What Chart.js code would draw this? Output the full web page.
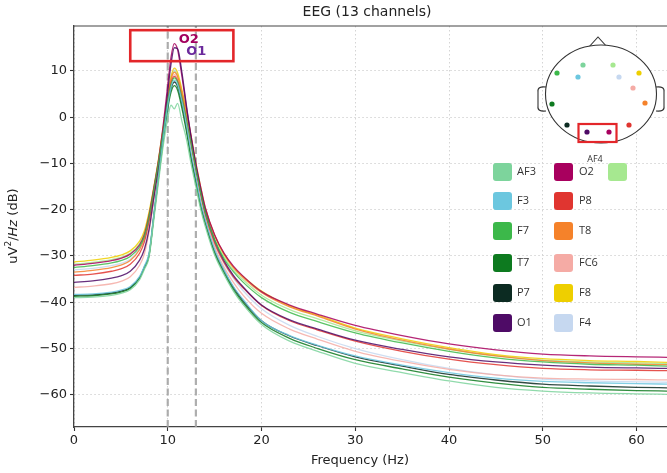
<!DOCTYPE html>
<html>
<head>
<meta charset="utf-8">
<title>EEG (13 channels)</title>
<script src="https://cdn.jsdelivr.net/npm/chart.js@4"></script>
<style>
    html, body { margin: 0; padding: 0; background: #fff; overflow: hidden; }
    #wrap { width: 667px; height: 473px; position: relative; }
</style>
</head>
<body>
<div id="wrap"><canvas id="psdChart" width="667" height="473"></canvas></div>
<script>
// Frequency grid (Hz) shared by every channel
const freqs = [0, 2, 4, 5, 6, 7, 7.5, 8, 8.5, 9, 9.5, 10, 10.35, 10.7, 11.05, 11.5, 12, 12.5, 13, 13.5,
               14, 15, 16, 17, 18, 20, 23, 26, 30, 35, 40, 45, 50, 55, 60, 63.5];

// PSD per channel, uV^2/Hz in dB
const psdAF3 = [-39.0, -38.9, -38.5, -38.1, -37.3, -35.1, -32.9, -30.3, -22.4, -14.2, -6.4, -0.2, 2.6, 1.8, 3.0, -0.8, -4.8, -10.2, -15.0, -19.8,
                -23.6, -29.8, -34.0, -37.6, -40.4, -44.8, -48.4, -50.6, -53.2, -55.2, -57.0, -58.4, -59.2, -59.6, -59.8, -59.9];
const psdF3  = [-38.3, -38.2, -37.8, -37.4, -36.6, -34.4, -32.2, -29.4, -21.2, -12.8, -4.8, 2.6, 6.4, 8.0, 7.0, 3.4, -1.8, -7.8, -13.0, -18.2,
                -22.2, -28.6, -33.0, -36.6, -39.3, -44.0, -47.2, -49.3, -51.6, -53.6, -55.2, -56.4, -57.1, -57.4, -57.6, -57.7];
const psdF7  = [-32.5, -32.1, -31.5, -31.0, -30.1, -28.0, -25.8, -21.6, -16.0, -10.0, -3.4, 3.4, 7.0, 8.5, 7.6, 4.2, -0.6, -5.8, -11.2, -16.2,
                -20.6, -26.6, -30.6, -33.4, -35.6, -39.0, -42.2, -44.2, -46.6, -48.8, -50.6, -52.0, -52.9, -53.4, -53.6, -53.8];
const psdT7  = [-38.7, -38.6, -38.2, -37.8, -37.0, -34.8, -32.6, -30.0, -21.8, -13.4, -5.4, 1.8, 5.4, 6.8, 5.8, 2.0, -3.2, -9.2, -14.2, -19.2,
                -23.0, -29.4, -33.6, -37.2, -40.0, -44.4, -47.8, -50.0, -52.4, -54.4, -56.2, -57.5, -58.4, -58.8, -59.1, -59.2];
const psdP7  = [-38.5, -38.4, -38.0, -37.6, -36.8, -34.6, -32.4, -29.8, -21.5, -13.0, -4.8, 2.6, 6.2, 7.6, 6.6, 2.8, -2.5, -8.6, -13.6, -18.8,
                -22.6, -29.0, -33.2, -36.8, -39.6, -44.0, -47.3, -49.4, -51.8, -53.8, -55.6, -56.8, -57.7, -58.1, -58.4, -58.5];
const psdO1  = [-35.7, -35.4, -34.8, -34.3, -33.3, -30.9, -28.6, -24.3, -17.6, -11.0, -3.6, 5.5, 11.5, 15.0, 14.8, 9.8, 2.4, -4.6, -10.6, -15.8,
                -20.3, -26.6, -31.0, -34.2, -36.6, -40.6, -43.8, -45.8, -48.2, -50.2, -51.8, -52.9, -53.6, -54.0, -54.2, -54.3];
const psdO2  = [-32.0, -31.6, -31.0, -30.5, -29.6, -27.6, -25.4, -21.2, -15.5, -9.5, -2.0, 7.0, 13.0, 15.9, 14.6, 9.0, 2.0, -4.2, -10.0, -15.0,
                -19.5, -25.4, -29.4, -32.2, -34.3, -37.7, -40.6, -42.6, -45.0, -47.2, -49.0, -50.3, -51.2, -51.6, -51.8, -51.9];
const psdP8  = [-34.2, -33.9, -33.3, -32.8, -31.8, -29.4, -27.0, -22.6, -16.8, -10.6, -3.6, 3.6, 7.4, 8.8, 7.8, 4.4, -0.6, -6.0, -11.4, -16.6,
                -21.0, -27.2, -31.4, -34.5, -36.8, -40.7, -44.0, -46.0, -48.4, -50.6, -52.3, -53.5, -54.3, -54.6, -54.7, -54.8];
const psdT8  = [-33.5, -33.1, -32.5, -32.0, -31.0, -28.6, -26.2, -21.8, -16.0, -9.8, -2.8, 4.2, 8.2, 9.7, 8.8, 5.4, 0.6, -4.8, -10.4, -15.4,
                -19.8, -25.6, -29.6, -32.5, -34.6, -37.9, -41.0, -43.0, -45.8, -48.2, -50.1, -51.6, -52.6, -53.1, -53.4, -53.5];
const psdFC6 = [-36.8, -36.5, -36.0, -35.5, -34.5, -32.0, -29.6, -24.8, -18.2, -11.6, -4.0, 3.6, 7.8, 9.2, 8.2, 4.6, -0.6, -6.2, -11.8, -17.0,
                -21.6, -28.0, -32.4, -35.7, -38.4, -42.4, -45.8, -48.0, -50.6, -52.8, -54.5, -55.7, -56.4, -56.6, -56.7, -56.8];
const psdF8  = [-31.3, -30.9, -30.3, -29.8, -28.9, -26.8, -24.6, -20.5, -15.2, -9.2, -2.4, 4.8, 8.8, 10.6, 9.6, 6.0, 1.2, -4.2, -10.0, -15.0,
                -19.6, -25.6, -29.6, -32.4, -34.4, -37.6, -40.8, -42.8, -45.6, -47.9, -49.8, -51.3, -52.2, -52.6, -52.8, -53.0];
const psdF4  = [-33.0, -32.7, -32.1, -31.6, -30.7, -28.4, -26.1, -21.8, -16.1, -10.0, -3.0, 4.6, 8.6, 10.2, 9.2, 5.6, 0.4, -5.4, -11.0, -16.2,
                -20.8, -27.2, -31.6, -34.8, -37.4, -41.4, -45.0, -47.4, -50.0, -52.4, -54.3, -55.7, -56.6, -57.0, -57.2, -57.3];
const psdAF4 = [-31.8, -31.4, -30.8, -30.3, -29.4, -27.3, -25.1, -21.0, -15.6, -9.6, -2.8, 4.4, 8.4, 10.0, 9.0, 5.4, 0.6, -4.8, -10.6, -15.6,
                -20.2, -26.2, -30.2, -33.0, -35.1, -38.5, -41.6, -43.6, -46.2, -48.4, -50.2, -51.6, -52.5, -52.9, -53.1, -53.3];

const channels = ['AF3', 'F3', 'F7', 'T7', 'P7', 'O1', 'O2', 'P8', 'T8', 'FC6', 'F8', 'F4', 'AF4'];
const series   = [psdAF3, psdF3, psdF7, psdT7, psdP7, psdO1, psdO2, psdP8, psdT8, psdFC6, psdF8, psdF4, psdAF4];
const colors   = ['#7dd49c', '#6cc7df', '#3cb84a', '#0d7a1f', '#0c2b22', '#4e0b66',
                  '#a8005e', '#e03530', '#f5822a', '#f5aba5', '#eecf00', '#c6d8f0', '#a6e890'];

const xTicks = [0, 10, 20, 30, 40, 50, 60];
const yTicks = [10, 0, -10, -20, -30, -40, -50, -60];
const xRange = [0, 63.25];
const yRange = [-66.96, 19.7];
const alphaBand = [10, 13];          // dashed band edges (Hz)
const highlightBox = [6, 17, 12.1, 18.8];   // x0, x1, y0, y1 in data units
const peakLabels = [['O2', 12.25, 16.8, '#a3005e'], ['O1', 13.05, 14.2, '#6b2a9c']];

const FONT = "'DejaVu Sans', sans-serif";

function alpha(hex, a) {
    const n = parseInt(hex.slice(1), 16);
    return `rgba(${n >> 16}, ${(n >> 8) & 255}, ${n & 255}, ${a})`;
}

const datasets = series.map((vals, i) => ({
    label: channels[i],
    data: vals.map((v, k) => ({ x: freqs[k], y: v })),
    borderColor: alpha(colors[i], 0.85),
    borderWidth: 1.3,
    pointRadius: 0,
    cubicInterpolationMode: 'monotone',
    fill: false
}));

alphaBand.forEach(f => {
    datasets.push({
        label: '',
        data: [{ x: f, y: yRange[0] }, { x: f, y: yRange[1] }],
        borderColor: 'rgba(160,160,160,0.85)',
        borderWidth: 2.2,
        borderDash: [7, 3.5],
        pointRadius: 0,
        fill: false
    });
});

// Positions for the inset montage (pixels, layout only)
const headDots = {
    AF3: [583, 65], AF4: [613, 65], F7: [557, 73], F3: [578, 77], F4: [619, 77], F8: [639, 73],
    FC6: [633, 88], T7: [552, 104], T8: [645, 103], P7: [567, 125], P8: [629, 125], O1: [587, 132], O2: [609, 132]
};
const legendCol1 = ['AF3', 'F3', 'F7', 'T7', 'P7', 'O1'];
const legendCol2 = ['O2', 'P8', 'T8', 'FC6', 'F8', 'F4'];
const legendRows = [172, 201, 231, 263, 293, 323];

const decor = {
    id: 'decor',
    afterDatasetsDraw(chart) {
        const { ctx, scales: { x, y } } = chart;
        ctx.save();
        // red highlight box around the peak labels
        const [bx0, bx1, by0, by1] = highlightBox;
        ctx.strokeStyle = '#e3262a';
        ctx.lineWidth = 2.6;
        ctx.strokeRect(x.getPixelForValue(bx0), y.getPixelForValue(by1),
            x.getPixelForValue(bx1) - x.getPixelForValue(bx0), y.getPixelForValue(by0) - y.getPixelForValue(by1));
        ctx.font = `bold 13px ${FONT}`;
        ctx.textAlign = 'center';
        ctx.textBaseline = 'middle';
        peakLabels.forEach(([t, fx, fy, c]) => {
            ctx.fillStyle = c;
            ctx.fillText(t, x.getPixelForValue(fx), y.getPixelForValue(fy));
        });
        ctx.restore();
    },
    afterDraw(chart) {
        const { ctx, chartArea } = chart;
        ctx.save();
        // top spine
        ctx.strokeStyle = '#444';
        ctx.lineWidth = 1.2;
        ctx.beginPath();
        ctx.moveTo(chartArea.left, chartArea.top);
        ctx.lineTo(chartArea.right, chartArea.top);
        ctx.stroke();

        // title + axis labels
        ctx.fillStyle = '#222';
        ctx.textAlign = 'center';
        ctx.textBaseline = 'middle';
        ctx.font = `14px ${FONT}`;
        ctx.fillText('EEG (13 channels)', 367, 12);
        ctx.font = `13px ${FONT}`;
        ctx.fillText('Frequency (Hz)', 360, 461);

        // y label with superscript and italic part
        ctx.translate(14, 226);
        ctx.rotate(-Math.PI / 2);
        const parts = [['uV', `13px ${FONT}`, 0], ['2', `9px ${FONT}`, -5], ['/', `13px ${FONT}`, 0],
                       ['Hz', `italic 13px ${FONT}`, 0], [' (dB)', `13px ${FONT}`, 0]];
        let total = 0;
        parts.forEach(p => { ctx.font = p[1]; total += ctx.measureText(p[0]).width; });
        let cx = -total / 2;
        ctx.textAlign = 'left';
        parts.forEach(p => {
            ctx.font = p[1];
            ctx.fillText(p[0], cx, p[2]);
            cx += ctx.measureText(p[0]).width;
        });
        ctx.setTransform(1, 0, 0, 1, 0, 0);

        // head inset
        ctx.strokeStyle = '#333';
        ctx.lineWidth = 1.1;
        ctx.beginPath();
        ctx.moveTo(588, 48); ctx.lineTo(598, 37); ctx.lineTo(608, 48);
        ctx.stroke();
        ctx.beginPath();
        ctx.ellipse(601, 94, 55.5, 49, 0, 0, Math.PI * 2);
        ctx.fillStyle = '#fff';
        ctx.fill();
        ctx.stroke();
        [[546, 537], [656, 665]].forEach(([x0, x1]) => {
            ctx.beginPath();
            ctx.moveTo(x0, 87);
            ctx.quadraticCurveTo(x1, 86, x1 + (x1 < x0 ? 1 : -1), 92);
            ctx.lineTo(x1 + (x1 < x0 ? 1 : -1), 106);
            ctx.quadraticCurveTo(x1, 112, x0, 111);
            ctx.stroke();
        });
        channels.forEach((ch, i) => {
            const [px, py] = headDots[ch];
            ctx.fillStyle = colors[i];
            ctx.beginPath();
            ctx.arc(px, py, 2.6, 0, Math.PI * 2);
            ctx.fill();
        });
        ctx.strokeStyle = '#e3262a';
        ctx.lineWidth = 2.2;
        ctx.strokeRect(578.5, 124, 38, 18);

        // legend
        ctx.font = `11px 'Open Sans', sans-serif`;
        ctx.textAlign = 'left';
        ctx.textBaseline = 'middle';
        const drawEntry = (ch, sx, tx, cy) => {
            ctx.fillStyle = colors[channels.indexOf(ch)];
            ctx.beginPath();
            ctx.roundRect(sx, cy - 9, 19, 18, 3);
            ctx.fill();
            ctx.fillStyle = '#333';
            ctx.fillText(ch, tx, cy);
        };
        legendCol1.forEach((ch, r) => drawEntry(ch, 493, 517, legendRows[r]));
        legendCol2.forEach((ch, r) => drawEntry(ch, 554, 579, legendRows[r]));
        ctx.fillStyle = colors[channels.indexOf('AF4')];
        ctx.beginPath();
        ctx.roundRect(608, 163, 19, 18, 3);
        ctx.fill();
        ctx.fillStyle = '#333';
        ctx.font = `9px 'Open Sans', sans-serif`;
        ctx.textAlign = 'center';
        ctx.fillText('AF4', 595, 159);
        ctx.restore();
    }
};

const tickFont = { family: FONT, size: 13 };

new Chart(document.getElementById('psdChart'), {
    type: 'line',
    data: { datasets },
    options: {
        responsive: false,
        animation: false,
        devicePixelRatio: 1,
        layout: { padding: { top: 26, left: 0, right: 0, bottom: 0 } },
        plugins: { legend: { display: false }, tooltip: { enabled: false }, title: { display: false } },
        scales: {
            x: {
                type: 'linear',
                min: xRange[0],
                max: xRange[1],
                afterBuildTicks: s => { s.ticks = xTicks.map(v => ({ value: v })); },
                afterFit: s => { s.height = 46; },
                ticks: { font: tickFont, color: '#222', padding: 2, maxRotation: 0 },
                grid: { color: '#cfcfcf', lineWidth: 0.9, tickColor: '#333', tickLength: 4, tickWidth: 1.1 },
                border: { display: true, color: '#444', width: 1.3, dash: [1.5, 2.5] }
            },
            y: {
                type: 'linear',
                min: yRange[0],
                max: yRange[1],
                afterBuildTicks: s => { s.ticks = yTicks.map(v => ({ value: v })); },
                afterFit: s => { s.width = 74; },
                ticks: {
                    font: tickFont, color: '#222', padding: 3,
                    callback: v => String(v).replace('-', '\u2212')
                },
                grid: { color: '#cfcfcf', lineWidth: 0.9, tickColor: '#333', tickLength: 4, tickWidth: 1.1 },
                border: { display: true, color: '#444', width: 1.3, dash: [1.5, 2.5] }
            }
        }
    },
    plugins: [decor]
});
</script>
</body>
</html>
